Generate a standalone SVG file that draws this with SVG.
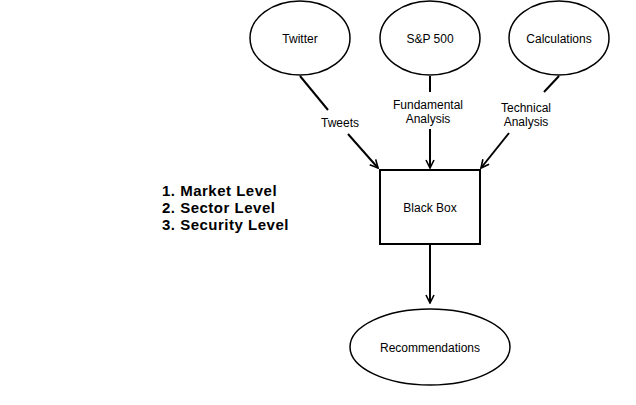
<svg xmlns="http://www.w3.org/2000/svg" width="636" height="405" viewBox="0 0 636 405">
<style>
.n{fill:#fff;stroke:#000;stroke-width:1.5}
.b{fill:#fff;stroke:#000;stroke-width:2}
.t{font-family:"Liberation Sans",Arial,sans-serif;font-size:12px;fill:#000;text-anchor:middle}
.e{stroke:#000;stroke-width:2;fill:none}
.l{font-family:"Liberation Sans",Arial,sans-serif;font-size:12px;fill:#000;text-anchor:middle}
.h{font-family:"Liberation Sans",Arial,sans-serif;font-size:15px;font-weight:bold;letter-spacing:0.5px;fill:#000}
</style>
<defs>
<marker id="a" viewBox="0 0 10 10" refX="9" refY="5" markerWidth="10" markerHeight="10" markerUnits="userSpaceOnUse" orient="auto">
<path d="M1,1 L9,5 L1,9" fill="none" stroke="#000" stroke-width="1.6"/>
</marker>
</defs>
<rect width="636" height="405" fill="#fff"/>
<g id="connectors">
<path class="e" d="M300,76 L328,110"/>
<path class="e" d="M348,134 L378,168" marker-end="url(#a)"/>
<path class="e" d="M430,76 L430,92"/>
<path class="e" d="M430,129 L430,168" marker-end="url(#a)"/>
<path class="e" d="M559,76 L544,92"/>
<path class="e" d="M509,133 L481,168" marker-end="url(#a)"/>
<path class="e" d="M430,245 L430,303" marker-end="url(#a)"/>
<text class="l" x="340" y="127">Tweets</text>
<text class="l" x="428" y="109">Fundamental</text>
<text class="l" x="428" y="123">Analysis</text>
<text class="l" x="526" y="112">Technical</text>
<text class="l" x="526" y="126">Analysis</text>
</g>
<g id="twitter"><ellipse class="n" cx="300" cy="38" rx="50" ry="37"/><text class="t" x="300" y="43">Twitter</text></g>
<g id="sp500"><ellipse class="n" cx="430" cy="38" rx="50" ry="37"/><text class="t" x="430" y="43">S&amp;P 500</text></g>
<g id="calculations"><ellipse class="n" cx="559" cy="38" rx="50" ry="37"/><text class="t" x="559" y="43">Calculations</text></g>
<g id="blackbox"><rect class="b" x="380" y="170" width="100" height="74"/><text class="t" x="430" y="212">Black Box</text></g>
<g id="recommendations"><ellipse class="n" cx="430" cy="347" rx="80" ry="38"/><text class="t" x="430" y="352">Recommendations</text></g>
<g id="levels">
<text class="h" x="162" y="196">1. Market Level</text>
<text class="h" x="162" y="213">2. Sector Level</text>
<text class="h" x="162" y="230">3. Security Level</text>
</g>
</svg>
